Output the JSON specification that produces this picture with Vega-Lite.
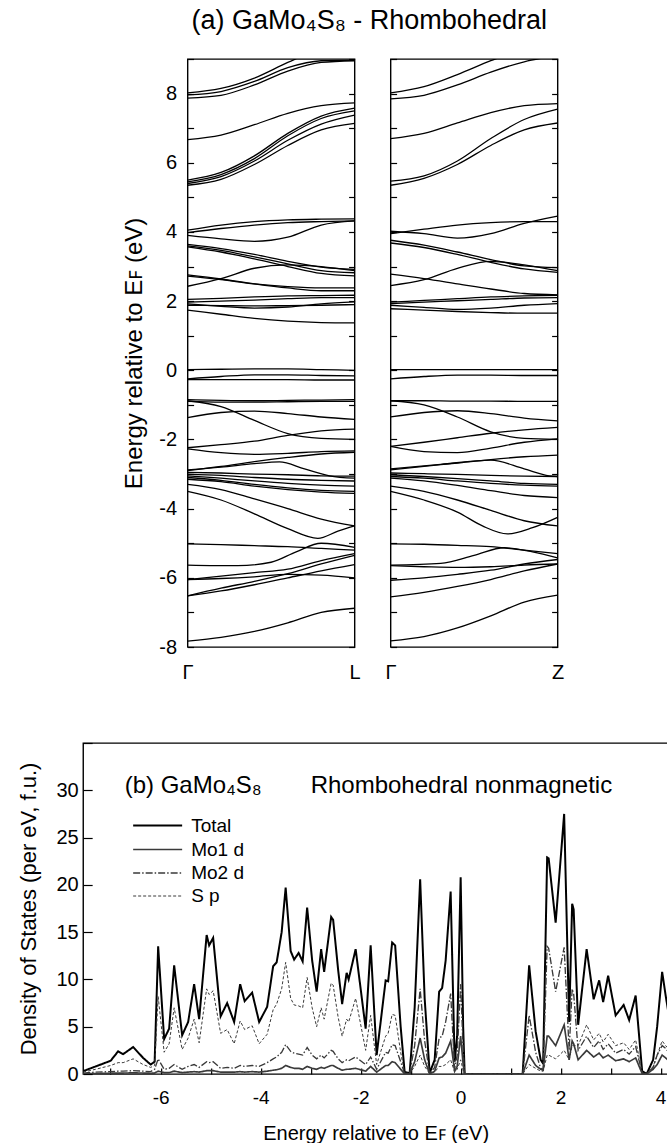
{
"$schema": "https://vega.github.io/schema/vega-lite/v6.json",
"background": "white",
"padding": {"left": 17, "top": 6, "right": 0, "bottom": 0},
"config": {"font": "Liberation Sans", "view": {"stroke": "black", "strokeWidth": 1.4}, "axis": {"grid": false, "labelColor": "black", "titleColor": "black", "tickColor": "black", "labelFont": "Liberation Sans", "titleFont": "Liberation Sans", "titleFontWeight": "normal"}},
"resolve": {"legend": {"color": "independent", "strokeDash": "independent", "strokeWidth": "independent"}},
"datasets": {
"gl": [
{"b":1,"k":0,"E":8.02},{"b":1,"k":0.2,"E":8.15},{"b":1,"k":0.4,"E":8.45},{"b":1,"k":0.6,"E":8.9},{"b":1,"k":0.8,"E":9.3},{"b":1,"k":1,"E":9.5},
{"b":2,"k":0,"E":7.96},{"b":2,"k":0.2,"E":8.06},{"b":2,"k":0.4,"E":8.35},{"b":2,"k":0.6,"E":8.75},{"b":2,"k":0.8,"E":8.95},{"b":2,"k":1,"E":8.97},
{"b":3,"k":0,"E":7.87},{"b":3,"k":0.2,"E":7.95},{"b":3,"k":0.4,"E":8.25},{"b":3,"k":0.6,"E":8.65},{"b":3,"k":0.8,"E":8.9},{"b":3,"k":1,"E":8.95},
{"b":4,"k":0,"E":6.67},{"b":4,"k":0.2,"E":6.8},{"b":4,"k":0.4,"E":7.1},{"b":4,"k":0.6,"E":7.43},{"b":4,"k":0.8,"E":7.65},{"b":4,"k":1,"E":7.73},
{"b":5,"k":0,"E":5.5},{"b":5,"k":0.2,"E":5.72},{"b":5,"k":0.4,"E":6.2},{"b":5,"k":0.6,"E":6.85},{"b":5,"k":0.8,"E":7.35},{"b":5,"k":1,"E":7.58},
{"b":6,"k":0,"E":5.45},{"b":6,"k":0.2,"E":5.66},{"b":6,"k":0.4,"E":6.12},{"b":6,"k":0.6,"E":6.78},{"b":6,"k":0.8,"E":7.28},{"b":6,"k":1,"E":7.5},
{"b":7,"k":0,"E":5.4},{"b":7,"k":0.2,"E":5.6},{"b":7,"k":0.4,"E":6.05},{"b":7,"k":0.6,"E":6.65},{"b":7,"k":0.8,"E":7.12},{"b":7,"k":1,"E":7.38},
{"b":8,"k":0,"E":5.35},{"b":8,"k":0.2,"E":5.52},{"b":8,"k":0.4,"E":5.95},{"b":8,"k":0.6,"E":6.5},{"b":8,"k":0.8,"E":6.95},{"b":8,"k":1,"E":7.14},
{"b":9,"k":0,"E":4.05},{"b":9,"k":0.2,"E":4.2},{"b":9,"k":0.4,"E":4.3},{"b":9,"k":0.6,"E":4.35},{"b":9,"k":0.8,"E":4.37},{"b":9,"k":1,"E":4.38},
{"b":10,"k":0,"E":3.98},{"b":10,"k":0.2,"E":4.1},{"b":10,"k":0.4,"E":4.2},{"b":10,"k":0.6,"E":4.27},{"b":10,"k":0.8,"E":4.3},{"b":10,"k":1,"E":4.32},
{"b":11,"k":0,"E":3.9},{"b":11,"k":0.2,"E":3.8},{"b":11,"k":0.4,"E":3.73},{"b":11,"k":0.6,"E":3.85},{"b":11,"k":0.8,"E":4.2},{"b":11,"k":1,"E":4.32},
{"b":12,"k":0,"E":3.64},{"b":12,"k":0.2,"E":3.52},{"b":12,"k":0.4,"E":3.35},{"b":12,"k":0.6,"E":3.15},{"b":12,"k":0.8,"E":2.98},{"b":12,"k":1,"E":2.92},
{"b":13,"k":0,"E":3.6},{"b":13,"k":0.2,"E":3.47},{"b":13,"k":0.4,"E":3.28},{"b":13,"k":0.6,"E":3.08},{"b":13,"k":0.8,"E":2.88},{"b":13,"k":1,"E":2.82},
{"b":14,"k":0,"E":3.57},{"b":14,"k":0.2,"E":3.42},{"b":14,"k":0.4,"E":3.22},{"b":14,"k":0.6,"E":3.0},{"b":14,"k":0.8,"E":2.8},{"b":14,"k":1,"E":2.73},
{"b":15,"k":0,"E":2.43},{"b":15,"k":0.2,"E":2.65},{"b":15,"k":0.4,"E":2.95},{"b":15,"k":0.6,"E":3.05},{"b":15,"k":0.8,"E":3.0},{"b":15,"k":1,"E":2.88},
{"b":16,"k":0,"E":2.76},{"b":16,"k":0.2,"E":2.64},{"b":16,"k":0.4,"E":2.5},{"b":16,"k":0.6,"E":2.38},{"b":16,"k":0.8,"E":2.3},{"b":16,"k":1,"E":2.3},
{"b":17,"k":0,"E":2.72},{"b":17,"k":0.2,"E":2.62},{"b":17,"k":0.4,"E":2.5},{"b":17,"k":0.6,"E":2.42},{"b":17,"k":0.8,"E":2.38},{"b":17,"k":1,"E":2.38},
{"b":18,"k":0,"E":2.05},{"b":18,"k":0.2,"E":2.08},{"b":18,"k":0.4,"E":2.12},{"b":18,"k":0.6,"E":2.15},{"b":18,"k":0.8,"E":2.16},{"b":18,"k":1,"E":2.17},
{"b":19,"k":0,"E":1.97},{"b":19,"k":0.2,"E":2.0},{"b":19,"k":0.4,"E":2.03},{"b":19,"k":0.6,"E":2.07},{"b":19,"k":0.8,"E":2.1},{"b":19,"k":1,"E":2.1},
{"b":20,"k":0,"E":1.92},{"b":20,"k":0.2,"E":1.85},{"b":20,"k":0.4,"E":1.8},{"b":20,"k":0.6,"E":1.83},{"b":20,"k":0.8,"E":1.92},{"b":20,"k":1,"E":1.98},
{"b":21,"k":0,"E":1.88},{"b":21,"k":0.2,"E":1.87},{"b":21,"k":0.4,"E":1.86},{"b":21,"k":0.6,"E":1.87},{"b":21,"k":0.8,"E":1.88},{"b":21,"k":1,"E":1.9},
{"b":22,"k":0,"E":1.74},{"b":22,"k":0.2,"E":1.62},{"b":22,"k":0.4,"E":1.5},{"b":22,"k":0.6,"E":1.42},{"b":22,"k":0.8,"E":1.38},{"b":22,"k":1,"E":1.37},
{"b":23,"k":0,"E":0.02},{"b":23,"k":0.2,"E":0.03},{"b":23,"k":0.4,"E":0.04},{"b":23,"k":0.6,"E":0.04},{"b":23,"k":0.8,"E":0.02},{"b":23,"k":1,"E":0.0},
{"b":24,"k":0,"E":-0.25},{"b":24,"k":0.2,"E":-0.18},{"b":24,"k":0.4,"E":-0.13},{"b":24,"k":0.6,"E":-0.13},{"b":24,"k":0.8,"E":-0.15},{"b":24,"k":1,"E":-0.16},
{"b":25,"k":0,"E":-0.27},{"b":25,"k":0.2,"E":-0.27},{"b":25,"k":0.4,"E":-0.27},{"b":25,"k":0.6,"E":-0.27},{"b":25,"k":0.8,"E":-0.28},{"b":25,"k":1,"E":-0.28},
{"b":26,"k":0,"E":-0.85},{"b":26,"k":0.2,"E":-0.87},{"b":26,"k":0.4,"E":-0.88},{"b":26,"k":0.6,"E":-0.87},{"b":26,"k":0.8,"E":-0.86},{"b":26,"k":1,"E":-0.85},
{"b":27,"k":0,"E":-0.9},{"b":27,"k":0.2,"E":-0.92},{"b":27,"k":0.4,"E":-0.92},{"b":27,"k":0.6,"E":-0.91},{"b":27,"k":0.8,"E":-0.9},{"b":27,"k":1,"E":-0.9},
{"b":28,"k":0,"E":-0.88},{"b":28,"k":0.2,"E":-1.05},{"b":28,"k":0.4,"E":-1.45},{"b":28,"k":0.6,"E":-1.83},{"b":28,"k":0.8,"E":-1.97},{"b":28,"k":1,"E":-2.0},
{"b":29,"k":0,"E":-1.37},{"b":29,"k":0.2,"E":-1.22},{"b":29,"k":0.4,"E":-1.18},{"b":29,"k":0.6,"E":-1.25},{"b":29,"k":0.8,"E":-1.35},{"b":29,"k":1,"E":-1.42},
{"b":30,"k":0,"E":-2.24},{"b":30,"k":0.2,"E":-2.15},{"b":30,"k":0.4,"E":-2.05},{"b":30,"k":0.6,"E":-1.88},{"b":30,"k":0.8,"E":-1.75},{"b":30,"k":1,"E":-1.7},
{"b":31,"k":0,"E":-2.27},{"b":31,"k":0.2,"E":-2.38},{"b":31,"k":0.4,"E":-2.43},{"b":31,"k":0.6,"E":-2.4},{"b":31,"k":0.8,"E":-2.35},{"b":31,"k":1,"E":-2.33},
{"b":32,"k":0,"E":-2.88},{"b":32,"k":0.2,"E":-2.8},{"b":32,"k":0.4,"E":-2.7},{"b":32,"k":0.55,"E":-2.65},{"b":32,"k":0.7,"E":-2.85},{"b":32,"k":0.85,"E":-3.05},{"b":32,"k":1,"E":-3.12},
{"b":33,"k":0,"E":-2.9},{"b":33,"k":0.2,"E":-2.78},{"b":33,"k":0.4,"E":-2.64},{"b":33,"k":0.6,"E":-2.52},{"b":33,"k":0.8,"E":-2.42},{"b":33,"k":1,"E":-2.37},
{"b":34,"k":0,"E":-2.95},{"b":34,"k":0.2,"E":-2.97},{"b":34,"k":0.4,"E":-3.0},{"b":34,"k":0.6,"E":-3.02},{"b":34,"k":0.8,"E":-3.05},{"b":34,"k":1,"E":-3.06},
{"b":35,"k":0,"E":-3.0},{"b":35,"k":0.2,"E":-3.04},{"b":35,"k":0.4,"E":-3.1},{"b":35,"k":0.6,"E":-3.15},{"b":35,"k":0.8,"E":-3.18},{"b":35,"k":1,"E":-3.2},
{"b":36,"k":0,"E":-3.05},{"b":36,"k":0.2,"E":-3.12},{"b":36,"k":0.4,"E":-3.2},{"b":36,"k":0.6,"E":-3.27},{"b":36,"k":0.8,"E":-3.32},{"b":36,"k":1,"E":-3.35},
{"b":37,"k":0,"E":-3.1},{"b":37,"k":0.2,"E":-3.18},{"b":37,"k":0.4,"E":-3.3},{"b":37,"k":0.6,"E":-3.4},{"b":37,"k":0.8,"E":-3.47},{"b":37,"k":1,"E":-3.5},
{"b":38,"k":0,"E":-3.15},{"b":38,"k":0.2,"E":-3.22},{"b":38,"k":0.4,"E":-3.35},{"b":38,"k":0.6,"E":-3.45},{"b":38,"k":0.8,"E":-3.52},{"b":38,"k":1,"E":-3.56},
{"b":39,"k":0,"E":-3.3},{"b":39,"k":0.2,"E":-3.45},{"b":39,"k":0.4,"E":-3.72},{"b":39,"k":0.6,"E":-4.0},{"b":39,"k":0.8,"E":-4.3},{"b":39,"k":1,"E":-4.5},
{"b":40,"k":0,"E":-3.5},{"b":40,"k":0.2,"E":-3.75},{"b":40,"k":0.4,"E":-4.15},{"b":40,"k":0.6,"E":-4.58},{"b":40,"k":0.78,"E":-4.86},{"b":40,"k":0.9,"E":-4.65},{"b":40,"k":1,"E":-4.5},
{"b":41,"k":0,"E":-5.02},{"b":41,"k":0.2,"E":-5.04},{"b":41,"k":0.4,"E":-5.07},{"b":41,"k":0.6,"E":-5.1},{"b":41,"k":0.8,"E":-5.15},{"b":41,"k":1,"E":-5.2},
{"b":42,"k":0,"E":-5.63},{"b":42,"k":0.3,"E":-5.65},{"b":42,"k":0.5,"E":-5.55},{"b":42,"k":0.65,"E":-5.25},{"b":42,"k":0.8,"E":-5.0},{"b":42,"k":1,"E":-5.12},
{"b":43,"k":0,"E":-6.05},{"b":43,"k":0.2,"E":-5.95},{"b":43,"k":0.4,"E":-5.85},{"b":43,"k":0.6,"E":-5.75},{"b":43,"k":0.8,"E":-5.5},{"b":43,"k":1,"E":-5.3},
{"b":44,"k":0,"E":-6.05},{"b":44,"k":0.2,"E":-6.02},{"b":44,"k":0.4,"E":-5.97},{"b":44,"k":0.6,"E":-5.9},{"b":44,"k":0.8,"E":-5.92},{"b":44,"k":1,"E":-6.0},
{"b":45,"k":0,"E":-6.52},{"b":45,"k":0.2,"E":-6.3},{"b":45,"k":0.4,"E":-6.1},{"b":45,"k":0.6,"E":-5.88},{"b":45,"k":0.8,"E":-5.6},{"b":45,"k":1,"E":-5.35},
{"b":46,"k":0,"E":-6.52},{"b":46,"k":0.2,"E":-6.38},{"b":46,"k":0.4,"E":-6.2},{"b":46,"k":0.6,"E":-6.0},{"b":46,"k":0.8,"E":-5.8},{"b":46,"k":1,"E":-5.62},
{"b":47,"k":0,"E":-7.83},{"b":47,"k":0.2,"E":-7.72},{"b":47,"k":0.4,"E":-7.55},{"b":47,"k":0.6,"E":-7.3},{"b":47,"k":0.8,"E":-7.0},{"b":47,"k":1,"E":-6.88}
],
"gz": [
{"b":1,"k":0,"E":8.02},{"b":1,"k":0.2,"E":8.2},{"b":1,"k":0.4,"E":8.55},{"b":1,"k":0.6,"E":8.95},{"b":1,"k":0.8,"E":9.3},{"b":1,"k":1,"E":9.5},
{"b":2,"k":0,"E":7.85},{"b":2,"k":0.2,"E":7.95},{"b":2,"k":0.4,"E":8.25},{"b":2,"k":0.6,"E":8.62},{"b":2,"k":0.8,"E":8.92},{"b":2,"k":1,"E":9.1},
{"b":3,"k":0,"E":6.7},{"b":3,"k":0.2,"E":6.85},{"b":3,"k":0.4,"E":7.15},{"b":3,"k":0.6,"E":7.45},{"b":3,"k":0.8,"E":7.65},{"b":3,"k":1,"E":7.71},
{"b":4,"k":0,"E":5.47},{"b":4,"k":0.2,"E":5.62},{"b":4,"k":0.4,"E":6.05},{"b":4,"k":0.6,"E":6.7},{"b":4,"k":0.8,"E":7.25},{"b":4,"k":1,"E":7.55},
{"b":5,"k":0,"E":5.35},{"b":5,"k":0.2,"E":5.55},{"b":5,"k":0.4,"E":5.95},{"b":5,"k":0.6,"E":6.5},{"b":5,"k":0.8,"E":6.95},{"b":5,"k":1,"E":7.15},
{"b":6,"k":0,"E":3.95},{"b":6,"k":0.2,"E":4.08},{"b":6,"k":0.4,"E":4.2},{"b":6,"k":0.6,"E":4.27},{"b":6,"k":0.8,"E":4.3},{"b":6,"k":1,"E":4.3},
{"b":7,"k":0,"E":4.02},{"b":7,"k":0.2,"E":3.95},{"b":7,"k":0.4,"E":3.82},{"b":7,"k":0.6,"E":3.95},{"b":7,"k":0.8,"E":4.25},{"b":7,"k":1,"E":4.46},
{"b":8,"k":0,"E":3.76},{"b":8,"k":0.2,"E":3.62},{"b":8,"k":0.4,"E":3.42},{"b":8,"k":0.6,"E":3.2},{"b":8,"k":0.8,"E":3.02},{"b":8,"k":1,"E":2.97},
{"b":9,"k":0,"E":3.68},{"b":9,"k":0.2,"E":3.55},{"b":9,"k":0.4,"E":3.35},{"b":9,"k":0.6,"E":3.12},{"b":9,"k":0.8,"E":2.93},{"b":9,"k":1,"E":2.83},
{"b":10,"k":0,"E":2.45},{"b":10,"k":0.2,"E":2.62},{"b":10,"k":0.4,"E":2.95},{"b":10,"k":0.6,"E":3.15},{"b":10,"k":0.8,"E":3.05},{"b":10,"k":1,"E":2.88},
{"b":11,"k":0,"E":2.78},{"b":11,"k":0.2,"E":2.65},{"b":11,"k":0.4,"E":2.5},{"b":11,"k":0.6,"E":2.35},{"b":11,"k":0.8,"E":2.22},{"b":11,"k":1,"E":2.18},
{"b":12,"k":0,"E":1.97},{"b":12,"k":0.2,"E":2.02},{"b":12,"k":0.4,"E":2.07},{"b":12,"k":0.6,"E":2.12},{"b":12,"k":0.8,"E":2.15},{"b":12,"k":1,"E":2.17},
{"b":13,"k":0,"E":1.93},{"b":13,"k":0.2,"E":1.97},{"b":13,"k":0.4,"E":2.01},{"b":13,"k":0.6,"E":2.05},{"b":13,"k":0.8,"E":2.09},{"b":13,"k":1,"E":2.1},
{"b":14,"k":0,"E":1.88},{"b":14,"k":0.2,"E":1.82},{"b":14,"k":0.4,"E":1.76},{"b":14,"k":0.6,"E":1.8},{"b":14,"k":0.8,"E":1.88},{"b":14,"k":1,"E":1.93},
{"b":15,"k":0,"E":1.78},{"b":15,"k":0.2,"E":1.74},{"b":15,"k":0.4,"E":1.7},{"b":15,"k":0.6,"E":1.67},{"b":15,"k":0.8,"E":1.65},{"b":15,"k":1,"E":1.65},
{"b":16,"k":0,"E":0.02},{"b":16,"k":0.2,"E":0.02},{"b":16,"k":0.4,"E":0.02},{"b":16,"k":0.6,"E":0.02},{"b":16,"k":0.8,"E":0.02},{"b":16,"k":1,"E":0.02},
{"b":17,"k":0,"E":-0.25},{"b":17,"k":0.2,"E":-0.18},{"b":17,"k":0.4,"E":-0.14},{"b":17,"k":0.6,"E":-0.14},{"b":17,"k":0.8,"E":-0.15},{"b":17,"k":1,"E":-0.15},
{"b":18,"k":0,"E":-0.88},{"b":18,"k":0.2,"E":-0.88},{"b":18,"k":0.4,"E":-0.89},{"b":18,"k":0.6,"E":-0.89},{"b":18,"k":0.8,"E":-0.9},{"b":18,"k":1,"E":-0.9},
{"b":19,"k":0,"E":-0.88},{"b":19,"k":0.2,"E":-1.0},{"b":19,"k":0.4,"E":-1.35},{"b":19,"k":0.6,"E":-1.78},{"b":19,"k":0.8,"E":-1.97},{"b":19,"k":1,"E":-2.0},
{"b":20,"k":0,"E":-1.35},{"b":20,"k":0.2,"E":-1.22},{"b":20,"k":0.4,"E":-1.17},{"b":20,"k":0.6,"E":-1.25},{"b":20,"k":0.8,"E":-1.38},{"b":20,"k":1,"E":-1.46},
{"b":21,"k":0,"E":-2.2},{"b":21,"k":0.2,"E":-2.08},{"b":21,"k":0.4,"E":-1.95},{"b":21,"k":0.6,"E":-1.82},{"b":21,"k":0.8,"E":-1.72},{"b":21,"k":1,"E":-1.65},
{"b":22,"k":0,"E":-2.2},{"b":22,"k":0.2,"E":-2.35},{"b":22,"k":0.4,"E":-2.38},{"b":22,"k":0.6,"E":-2.25},{"b":22,"k":0.8,"E":-2.08},{"b":22,"k":1,"E":-1.98},
{"b":23,"k":0,"E":-2.85},{"b":23,"k":0.3,"E":-2.72},{"b":23,"k":0.6,"E":-2.6},{"b":23,"k":0.8,"E":-2.85},{"b":23,"k":0.95,"E":-3.05},{"b":23,"k":1,"E":-3.07},
{"b":24,"k":0,"E":-2.88},{"b":24,"k":0.2,"E":-2.78},{"b":24,"k":0.4,"E":-2.68},{"b":24,"k":0.6,"E":-2.58},{"b":24,"k":0.8,"E":-2.5},{"b":24,"k":1,"E":-2.45},
{"b":25,"k":0,"E":-2.97},{"b":25,"k":0.2,"E":-2.99},{"b":25,"k":0.4,"E":-3.01},{"b":25,"k":0.6,"E":-3.04},{"b":25,"k":0.8,"E":-3.06},{"b":25,"k":1,"E":-3.07},
{"b":26,"k":0,"E":-3.02},{"b":26,"k":0.2,"E":-3.07},{"b":26,"k":0.4,"E":-3.13},{"b":26,"k":0.6,"E":-3.2},{"b":26,"k":0.8,"E":-3.27},{"b":26,"k":1,"E":-3.3},
{"b":27,"k":0,"E":-3.07},{"b":27,"k":0.2,"E":-3.12},{"b":27,"k":0.4,"E":-3.2},{"b":27,"k":0.6,"E":-3.27},{"b":27,"k":0.8,"E":-3.32},{"b":27,"k":1,"E":-3.35},
{"b":28,"k":0,"E":-3.12},{"b":28,"k":0.2,"E":-3.2},{"b":28,"k":0.4,"E":-3.33},{"b":28,"k":0.6,"E":-3.48},{"b":28,"k":0.8,"E":-3.62},{"b":28,"k":1,"E":-3.68},
{"b":29,"k":0,"E":-3.35},{"b":29,"k":0.2,"E":-3.5},{"b":29,"k":0.4,"E":-3.75},{"b":29,"k":0.6,"E":-4.05},{"b":29,"k":0.8,"E":-4.35},{"b":29,"k":1,"E":-4.5},
{"b":30,"k":0,"E":-3.5},{"b":30,"k":0.2,"E":-3.75},{"b":30,"k":0.4,"E":-4.1},{"b":30,"k":0.55,"E":-4.5},{"b":30,"k":0.7,"E":-4.73},{"b":30,"k":0.85,"E":-4.55},{"b":30,"k":1,"E":-4.25},
{"b":31,"k":0,"E":-5.02},{"b":31,"k":0.2,"E":-5.03},{"b":31,"k":0.4,"E":-5.06},{"b":31,"k":0.6,"E":-5.1},{"b":31,"k":0.8,"E":-5.2},{"b":31,"k":1,"E":-5.3},
{"b":32,"k":0,"E":-5.63},{"b":32,"k":0.3,"E":-5.58},{"b":32,"k":0.5,"E":-5.35},{"b":32,"k":0.68,"E":-5.13},{"b":32,"k":0.85,"E":-5.25},{"b":32,"k":1,"E":-5.42},
{"b":33,"k":0,"E":-5.65},{"b":33,"k":0.2,"E":-5.68},{"b":33,"k":0.4,"E":-5.7},{"b":33,"k":0.6,"E":-5.68},{"b":33,"k":0.8,"E":-5.63},{"b":33,"k":1,"E":-5.6},
{"b":34,"k":0,"E":-6.07},{"b":34,"k":0.2,"E":-6.0},{"b":34,"k":0.4,"E":-5.9},{"b":34,"k":0.6,"E":-5.78},{"b":34,"k":0.8,"E":-5.6},{"b":34,"k":1,"E":-5.47},
{"b":35,"k":0,"E":-6.55},{"b":35,"k":0.2,"E":-6.42},{"b":35,"k":0.4,"E":-6.25},{"b":35,"k":0.6,"E":-6.05},{"b":35,"k":0.8,"E":-5.8},{"b":35,"k":1,"E":-5.6},
{"b":36,"k":0,"E":-7.82},{"b":36,"k":0.2,"E":-7.7},{"b":36,"k":0.4,"E":-7.45},{"b":36,"k":0.6,"E":-7.1},{"b":36,"k":0.8,"E":-6.7},{"b":36,"k":1,"E":-6.5}
],
"dos": [
{"x":-7.55,"t":0.3,"m1":0.02,"m2":0.1,"s":0.2},
{"x":-7.3,"t":0.8,"m1":0.05,"m2":0.2,"s":0.5},
{"x":-7.0,"t":1.4,"m1":0.08,"m2":0.25,"s":0.9},
{"x":-6.85,"t":2.4,"m1":0.1,"m2":0.3,"s":1.2},
{"x":-6.75,"t":2.1,"m1":0.1,"m2":0.3,"s":1.2},
{"x":-6.55,"t":2.85,"m1":0.12,"m2":0.35,"s":1.6},
{"x":-6.35,"t":1.7,"m1":0.1,"m2":0.3,"s":1.0},
{"x":-6.2,"t":1.0,"m1":0.08,"m2":0.25,"s":0.7},
{"x":-6.12,"t":1.3,"m1":0.1,"m2":0.5,"s":0.9},
{"x":-6.05,"t":13.5,"m1":0.3,"m2":1.6,"s":8.2},
{"x":-5.93,"t":3.7,"m1":0.15,"m2":0.5,"s":2.3},
{"x":-5.83,"t":4.8,"m1":0.15,"m2":0.6,"s":3.2},
{"x":-5.73,"t":11.5,"m1":0.3,"m2":1.0,"s":7.0},
{"x":-5.57,"t":4.1,"m1":0.15,"m2":0.5,"s":2.6},
{"x":-5.45,"t":5.5,"m1":0.2,"m2":0.8,"s":3.8},
{"x":-5.33,"t":9.5,"m1":0.25,"m2":1.0,"s":5.8},
{"x":-5.23,"t":5.8,"m1":0.2,"m2":0.7,"s":3.3},
{"x":-5.08,"t":14.7,"m1":0.35,"m2":1.3,"s":9.0},
{"x":-5.03,"t":13.6,"m1":0.35,"m2":1.2,"s":8.4},
{"x":-4.95,"t":14.4,"m1":0.35,"m2":1.3,"s":8.8},
{"x":-4.8,"t":6.1,"m1":0.2,"m2":0.6,"s":4.3},
{"x":-4.67,"t":7.5,"m1":0.2,"m2":0.7,"s":4.7},
{"x":-4.53,"t":5.5,"m1":0.2,"m2":0.6,"s":3.2},
{"x":-4.41,"t":9.5,"m1":0.25,"m2":0.9,"s":5.6},
{"x":-4.32,"t":7.7,"m1":0.2,"m2":0.8,"s":4.7},
{"x":-4.17,"t":8.6,"m1":0.25,"m2":0.9,"s":5.1},
{"x":-4.03,"t":5.5,"m1":0.2,"m2":0.8,"s":3.2},
{"x":-3.87,"t":7.1,"m1":0.3,"m2":1.2,"s":4.2},
{"x":-3.75,"t":11.4,"m1":0.4,"m2":1.6,"s":6.8},
{"x":-3.68,"t":11.8,"m1":0.45,"m2":1.8,"s":7.4},
{"x":-3.58,"t":15.0,"m1":0.6,"m2":2.3,"s":9.0},
{"x":-3.5,"t":19.7,"m1":0.9,"m2":3.1,"s":11.8},
{"x":-3.4,"t":13.0,"m1":0.7,"m2":2.4,"s":8.0},
{"x":-3.33,"t":12.1,"m1":0.6,"m2":2.2,"s":7.3},
{"x":-3.24,"t":12.8,"m1":0.6,"m2":2.1,"s":7.2},
{"x":-3.16,"t":11.9,"m1":0.5,"m2":2.0,"s":7.0},
{"x":-3.07,"t":17.6,"m1":0.8,"m2":2.8,"s":10.2},
{"x":-2.97,"t":12.0,"m1":0.6,"m2":2.0,"s":7.0},
{"x":-2.88,"t":8.7,"m1":0.5,"m2":1.6,"s":5.0},
{"x":-2.79,"t":13.2,"m1":0.7,"m2":2.0,"s":7.0},
{"x":-2.73,"t":10.8,"m1":0.6,"m2":1.7,"s":5.8},
{"x":-2.59,"t":16.6,"m1":0.9,"m2":2.5,"s":9.6},
{"x":-2.55,"t":16.3,"m1":0.9,"m2":2.4,"s":9.4},
{"x":-2.45,"t":11.0,"m1":0.6,"m2":1.6,"s":6.0},
{"x":-2.37,"t":7.4,"m1":0.4,"m2":1.2,"s":4.0},
{"x":-2.28,"t":10.7,"m1":0.5,"m2":1.5,"s":5.8},
{"x":-2.24,"t":10.0,"m1":0.5,"m2":1.4,"s":5.5},
{"x":-2.1,"t":13.2,"m1":0.6,"m2":1.8,"s":8.0},
{"x":-1.9,"t":4.8,"m1":0.3,"m2":1.0,"s":2.5},
{"x":-1.8,"t":13.6,"m1":0.8,"m2":1.8,"s":6.2},
{"x":-1.68,"t":2.0,"m1":0.2,"m2":0.5,"s":1.0},
{"x":-1.5,"t":9.9,"m1":0.9,"m2":2.3,"s":4.0},
{"x":-1.45,"t":9.8,"m1":0.9,"m2":2.2,"s":4.3},
{"x":-1.37,"t":13.9,"m1":1.3,"m2":3.1,"s":6.3},
{"x":-1.31,"t":13.6,"m1":1.2,"m2":3.0,"s":6.2},
{"x":-1.2,"t":5.0,"m1":0.5,"m2":1.3,"s":2.3},
{"x":-1.12,"t":0.2,"m1":0.02,"m2":0.05,"s":0.1},
{"x":-1.02,"t":0.1,"m1":0.02,"m2":0.05,"s":0.05},
{"x":-0.92,"t":7.0,"m1":1.3,"m2":3.0,"s":0.8},
{"x":-0.81,"t":20.6,"m1":3.8,"m2":9.0,"s":2.0},
{"x":-0.72,"t":8.0,"m1":1.5,"m2":3.5,"s":0.8},
{"x":-0.62,"t":0.1,"m1":0.02,"m2":0.05,"s":0.05},
{"x":-0.52,"t":1.5,"m1":0.3,"m2":0.7,"s":0.2},
{"x":-0.43,"t":8.7,"m1":1.7,"m2":3.8,"s":0.8},
{"x":-0.37,"t":9.1,"m1":1.8,"m2":4.0,"s":0.8},
{"x":-0.3,"t":12.0,"m1":2.2,"m2":5.5,"s":1.0},
{"x":-0.2,"t":19.3,"m1":3.5,"m2":8.5,"s":1.5},
{"x":-0.12,"t":1.3,"m1":0.3,"m2":0.6,"s":0.2},
{"x":-0.07,"t":4.0,"m1":0.8,"m2":2.0,"s":0.5},
{"x":0.0,"t":20.8,"m1":4.0,"m2":9.5,"s":1.5},
{"x":0.05,"t":5.0,"m1":1.0,"m2":2.5,"s":0.4},
{"x":0.08,"t":0,"m1":0,"m2":0,"s":0},
{"x":1.24,"t":0,"m1":0,"m2":0,"s":0},
{"x":1.37,"t":11.5,"m1":2.0,"m2":6.2,"s":1.0},
{"x":1.5,"t":4.5,"m1":0.9,"m2":2.3,"s":0.6},
{"x":1.6,"t":1.5,"m1":0.5,"m2":0.6,"s":0.3},
{"x":1.65,"t":1.1,"m1":0.4,"m2":0.5,"s":0.3},
{"x":1.73,"t":22.9,"m1":4.0,"m2":13.5,"s":2.0},
{"x":1.76,"t":22.8,"m1":4.0,"m2":13.3,"s":2.0},
{"x":1.9,"t":16.0,"m1":3.0,"m2":8.7,"s":1.6},
{"x":2.07,"t":27.5,"m1":5.2,"m2":13.4,"s":2.5},
{"x":2.17,"t":5.5,"m1":1.5,"m2":2.5,"s":1.5},
{"x":2.23,"t":18.0,"m1":3.5,"m2":9.0,"s":3.0},
{"x":2.26,"t":17.4,"m1":3.2,"m2":8.5,"s":3.0},
{"x":2.35,"t":5.2,"m1":1.5,"m2":2.5,"s":3.0},
{"x":2.52,"t":13.2,"m1":2.5,"m2":4.0,"s":5.2},
{"x":2.66,"t":7.9,"m1":1.8,"m2":2.8,"s":3.6},
{"x":2.77,"t":9.9,"m1":2.2,"m2":3.5,"s":4.3},
{"x":2.85,"t":7.6,"m1":1.7,"m2":2.6,"s":3.4},
{"x":2.95,"t":10.4,"m1":2.0,"m2":3.2,"s":4.2},
{"x":3.1,"t":6.2,"m1":1.4,"m2":2.2,"s":3.0},
{"x":3.26,"t":7.3,"m1":1.6,"m2":2.6,"s":3.3},
{"x":3.37,"t":5.7,"m1":1.3,"m2":2.1,"s":2.6},
{"x":3.5,"t":8.3,"m1":1.7,"m2":2.9,"s":3.6},
{"x":3.63,"t":0.3,"m1":0.05,"m2":0.1,"s":0.1},
{"x":3.72,"t":0,"m1":0,"m2":0,"s":0},
{"x":3.85,"t":1.5,"m1":0.5,"m2":0.7,"s":0.8},
{"x":3.93,"t":5.0,"m1":1.0,"m2":2.0,"s":2.0},
{"x":4.03,"t":10.8,"m1":2.0,"m2":3.0,"s":3.5},
{"x":4.1,"t":8.3,"m1":1.7,"m2":2.7,"s":3.0},
{"x":4.2,"t":5.0,"m1":1.2,"m2":2.0,"s":2.4}
]
},
"center": true,
"spacing": 58,
"vconcat": [
{
"title": {"text": "(a)   GaMo₄S₈ - Rhombohedral", "fontSize": 27, "fontWeight": "normal", "font": "Liberation Sans", "color": "black", "anchor": "middle", "offset": 21, "dx": 26},
"spacing": 22,
"hconcat": [
{
"width": 167, "height": 588,
"layer": [
{"data": {"name": "gl"}, "mark": {"type": "line", "interpolate": "monotone", "clip": true, "color": "black", "strokeWidth": 1.3},
"encoding": {
"x": {"field": "k", "type": "quantitative", "scale": {"domain": [0, 1], "nice": false}, "axis": {"values": [0, 1], "labelExpr": "datum.value === 0 ? 'Γ' : 'L'", "ticks": false, "domain": false, "labelFontSize": 20, "labelPadding": 15, "labelFlush": false, "title": null}},
"y": {"field": "E", "type": "quantitative", "scale": {"domain": [-8, 9], "nice": false, "zero": false}, "axis": {"orient": "left", "values": [-8,-7,-6,-5,-4,-3,-2,-1,0,1,2,3,4,5,6,7,8,9], "labelExpr": "datum.value % 2 === 0 && datum.value < 9 ? '' + datum.value : ''", "tickSize": -6, "tickWidth": 1.2, "domain": false, "labelFontSize": 20, "labelPadding": 17, "title": "Energy relative to Eꜰ (eV)", "titleFontSize": 24, "titlePadding": 12}},
"detail": {"field": "b"}
}},
{"data": {"values": [{"E": -8}, {"E": 9}]}, "mark": {"type": "point", "opacity": 0},
"encoding": {"y": {"field": "E", "type": "quantitative", "scale": {"domain": [-8, 9], "nice": false, "zero": false}, "axis": {"orient": "right", "values": [-8,-7,-6,-5,-4,-3,-2,-1,0,1,2,3,4,5,6,7,8,9], "labels": false, "tickSize": -6, "tickWidth": 1.2, "domain": false, "title": null, "minExtent": 0}}}}
],
"resolve": {"axis": {"y": "independent"}}
},
{
"width": 167, "height": 588,
"layer": [
{"data": {"name": "gz"}, "mark": {"type": "line", "interpolate": "monotone", "clip": true, "color": "black", "strokeWidth": 1.3},
"encoding": {
"x": {"field": "k", "type": "quantitative", "scale": {"domain": [0, 1], "nice": false}, "axis": {"values": [0, 1], "labelExpr": "datum.value === 0 ? 'Γ' : 'Z'", "ticks": false, "domain": false, "labelFontSize": 20, "labelPadding": 15, "labelFlush": false, "title": null}},
"y": {"field": "E", "type": "quantitative", "scale": {"domain": [-8, 9], "nice": false, "zero": false}, "axis": {"orient": "left", "values": [-8,-7,-6,-5,-4,-3,-2,-1,0,1,2,3,4,5,6,7,8,9], "labels": false, "tickSize": -6, "tickWidth": 1.2, "domain": false, "title": null, "minExtent": 0}},
"detail": {"field": "b"}
}},
{"data": {"values": [{"E": -8}, {"E": 9}]}, "mark": {"type": "point", "opacity": 0},
"encoding": {"y": {"field": "E", "type": "quantitative", "scale": {"domain": [-8, 9], "nice": false, "zero": false}, "axis": {"orient": "right", "values": [-8,-7,-6,-5,-4,-3,-2,-1,0,1,2,3,4,5,6,7,8,9], "labels": false, "tickSize": -6, "tickWidth": 1.2, "domain": false, "title": null, "minExtent": 0}}}}
],
"resolve": {"axis": {"y": "independent"}}
}
]
},
{
"width": 585, "height": 331,
"layer": [
{"data": {"name": "dos"},
"transform": [{"fold": ["t", "m1", "m2", "s"], "as": ["series", "v"]}],
"mark": {"type": "line", "clip": true},
"encoding": {
"x": {"field": "x", "type": "quantitative", "scale": {"domain": [-7.55, 4.15], "nice": false, "zero": false}, "axis": {"values": [-7,-6,-5,-4,-3,-2,-1,0,1,2,3,4], "labelExpr": "datum.value % 2 === 0 ? '' + datum.value : ''", "tickSize": -6, "tickWidth": 1.2, "domain": false, "labelFontSize": 19, "labelPadding": 20, "labelFlush": false, "title": "Energy relative to Eꜰ (eV)", "titleFontSize": 20, "titlePadding": 16}},
"y": {"field": "v", "type": "quantitative", "scale": {"domain": [0, 35], "nice": false}, "axis": {"values": [0,2.5,5,7.5,10,12.5,15,17.5,20,22.5,25,27.5,30,32.5,35], "labelExpr": "datum.value % 5 === 0 && datum.value < 35 ? '' + datum.value : ''", "tickSize": -9, "tickWidth": 1.2, "domain": false, "labelFontSize": 20, "labelPadding": 14, "title": "Density of States (per eV, f.u.)", "titleFontSize": 22, "titlePadding": 15}},
"color": {"field": "series", "type": "nominal", "scale": {"domain": ["t", "m1", "m2", "s"], "range": ["black", "#3a3a3a", "#3a3a3a", "#3a3a3a"]}, "legend": {"title": null, "orient": "none", "legendX": 61, "legendY": 69, "symbolType": "M-2,0H2", "symbolSize": 600, "labelFontSize": 19, "labelColor": "black", "labelFont": "Liberation Sans", "rowPadding": 0, "labelOffset": 20, "labelExpr": "datum.label == 't' ? 'Total' : datum.label == 'm1' ? 'Mo1 d' : datum.label == 'm2' ? 'Mo2 d' : 'S p'"}},
"strokeDash": {"field": "series", "type": "nominal", "scale": {"domain": ["t", "m1", "m2", "s"], "range": [[1, 0], [1, 0], [7, 2, 1.5, 2], [3, 2]]}, "legend": {"title": null, "orient": "none", "legendX": 61, "legendY": 69, "symbolType": "M-2,0H2", "symbolSize": 600, "labelFontSize": 19, "labelColor": "black", "labelFont": "Liberation Sans", "rowPadding": 0, "labelOffset": 20, "labelExpr": "datum.label == 't' ? 'Total' : datum.label == 'm1' ? 'Mo1 d' : datum.label == 'm2' ? 'Mo2 d' : 'S p'"}},
"strokeWidth": {"field": "series", "type": "nominal", "scale": {"domain": ["t", "m1", "m2", "s"], "range": [2, 1, 1, 1]}, "legend": {"title": null, "orient": "none", "legendX": 61, "legendY": 69, "symbolType": "M-2,0H2", "symbolSize": 600, "labelFontSize": 19, "labelColor": "black", "labelFont": "Liberation Sans", "rowPadding": 0, "labelOffset": 20, "labelExpr": "datum.label == 't' ? 'Total' : datum.label == 'm1' ? 'Mo1 d' : datum.label == 'm2' ? 'Mo2 d' : 'S p'"}}
}},
{"data": {"values": [{"x": -6.72, "y": 30.5, "label": "(b)   GaMo₄S₈"}, {"x": -3.0, "y": 30.5, "label": "Rhombohedral nonmagnetic"}]},
"mark": {"type": "text", "align": "left", "baseline": "middle", "fontSize": 24, "font": "Liberation Sans", "color": "black"},
"encoding": {"x": {"field": "x", "type": "quantitative"}, "y": {"field": "y", "type": "quantitative"}, "text": {"field": "label"}}}
]
}
]
}
